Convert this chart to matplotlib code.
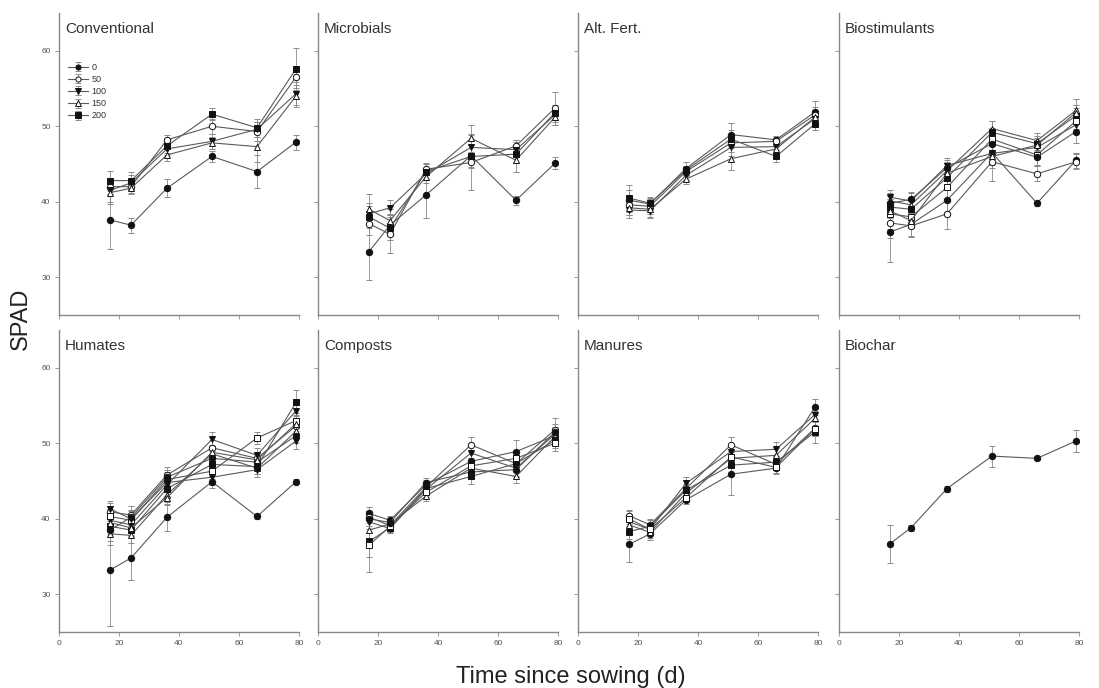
import matplotlib.pyplot as plt
import numpy as np

plt.rcParams['font.family'] = ['Liberation Sans', 'DejaVu Sans']

# sampling days
days = [17, 24, 36, 51, 66, 79]
rates = ['0', '50', '100', '150', '200']

panel_names = ['Conventional', 'Microbials', 'Alt. Fert.', 'Biostimulants',
               'Humates', 'Composts', 'Manures', 'Biochar']

# SPAD means per treatment (one row per product / rate)
conv_mean = [[37.6, 36.9, 41.8, 46.0, 44.0, 47.9],
             [42.0, 42.0, 48.2, 50.0, 49.3, 56.5],
             [41.5, 42.5, 47.0, 48.0, 49.6, 54.3],
             [41.2, 41.8, 46.2, 47.8, 47.3, 54.0],
             [42.8, 42.8, 47.4, 51.6, 49.8, 57.6]]
conv_err = [[3.8, 1.0, 1.2, 0.7, 2.2, 1.0],
            [1.0, 0.8, 0.7, 1.0, 1.2, 1.5],
            [1.5, 1.0, 0.8, 1.0, 1.0, 1.5],
            [1.5, 0.8, 0.8, 0.8, 2.0, 1.5],
            [1.3, 1.2, 1.0, 0.8, 1.2, 2.8]]

micro_mean = [[33.4, 36.9, 40.9, 46.1, 40.2, 45.1],
              [37.1, 35.7, 44.3, 45.2, 47.4, 52.4],
              [38.4, 39.2, 43.7, 47.2, 46.9, 51.5],
              [39.0, 37.5, 43.3, 48.4, 45.5, 51.2],
              [38.0, 36.5, 44.0, 46.0, 46.3, 51.8]]
micro_err = [[3.7, 1.5, 3.0, 1.5, 0.6, 0.8],
             [1.5, 2.5, 0.8, 3.6, 0.8, 2.2],
             [1.5, 1.0, 0.8, 1.8, 1.0, 1.0],
             [2.0, 1.5, 0.8, 1.8, 1.5, 1.0],
             [1.5, 1.5, 1.0, 1.5, 1.0, 1.0]]

alt_mean = [[40.2, 39.7, 44.4, 48.9, 48.2, 51.9],
            [39.6, 39.4, 44.0, 47.8, 48.0, 51.5],
            [38.9, 38.8, 43.5, 47.2, 47.3, 51.0],
            [39.2, 39.0, 43.0, 45.7, 47.0, 51.2],
            [40.5, 39.8, 44.2, 48.3, 46.0, 50.3]]
alt_err = [[2.0, 0.8, 0.8, 1.5, 0.5, 1.5],
           [1.0, 1.0, 0.6, 1.2, 0.6, 1.0],
           [1.0, 1.0, 0.6, 1.2, 0.8, 1.0],
           [1.0, 1.0, 0.6, 1.5, 0.8, 1.0],
           [1.0, 0.8, 0.6, 1.2, 0.8, 0.8]]

bio_mean = [[36.0, 37.0, 40.2, 46.5, 39.8, 45.5],
            [37.2, 36.8, 38.4, 45.3, 43.7, 45.3],
            [40.6, 40.1, 44.8, 46.4, 47.2, 50.2],
            [40.1, 39.6, 44.1, 49.7, 48.1, 52.1],
            [39.3, 39.0, 43.2, 49.2, 47.7, 51.4],
            [38.4, 38.0, 41.9, 48.3, 46.2, 50.7],
            [39.8, 40.3, 44.5, 47.7, 45.9, 49.3],
            [38.8, 37.5, 43.8, 46.0, 47.5, 51.8]]
bio_err = [[4.0, 1.5, 1.5, 1.5, 0.3, 1.0],
           [2.0, 1.5, 2.0, 2.5, 1.0, 1.0],
           [1.0, 1.0, 1.0, 1.5, 1.0, 1.0],
           [1.0, 1.0, 1.0, 1.0, 1.0, 1.5],
           [1.5, 1.5, 1.0, 1.5, 1.0, 1.0],
           [2.0, 1.5, 1.5, 1.5, 1.5, 1.0],
           [1.0, 1.0, 1.0, 1.5, 1.0, 1.5],
           [1.5, 1.0, 1.5, 1.5, 1.0, 1.0]]

hum_mean = [[33.2, 34.8, 40.2, 44.9, 40.3, 44.9],
            [40.9, 40.5, 45.8, 49.4, 48.0, 52.3],
            [39.8, 39.2, 44.5, 50.5, 48.4, 54.3],
            [38.0, 37.8, 43.2, 48.6, 46.7, 51.6],
            [39.0, 38.5, 44.0, 47.2, 46.9, 55.4],
            [40.3, 39.8, 45.2, 46.3, 50.7, 53.0],
            [38.5, 40.2, 45.5, 48.0, 47.5, 51.0],
            [39.5, 38.8, 42.8, 48.8, 47.8, 52.6],
            [41.3, 40.0, 44.8, 45.5, 46.5, 50.3]]
hum_err = [[7.4, 2.9, 1.8, 0.8, 0.3, 0.3],
           [1.2, 1.2, 1.0, 1.0, 0.8, 1.0],
           [1.5, 1.0, 1.0, 1.0, 1.0, 1.2],
           [1.5, 1.0, 1.0, 1.0, 0.8, 1.0],
           [1.0, 1.0, 1.0, 1.0, 1.0, 1.6],
           [1.0, 1.0, 1.0, 1.0, 0.8, 1.0],
           [1.5, 1.0, 1.0, 1.0, 1.0, 1.0],
           [1.0, 1.0, 1.0, 1.0, 1.0, 1.0],
           [1.0, 1.0, 1.0, 1.0, 1.0, 1.0]]

comp_mean = [[40.7, 39.8, 44.5, 47.6, 48.9, 51.0],
             [40.2, 39.1, 44.2, 49.8, 47.3, 51.8],
             [39.6, 38.7, 43.9, 48.7, 46.7, 51.2],
             [38.5, 39.3, 43.0, 46.7, 45.6, 50.9],
             [37.0, 38.8, 44.0, 45.6, 47.3, 50.4],
             [36.5, 39.0, 43.5, 47.0, 48.0, 50.0],
             [40.0, 39.5, 44.8, 46.2, 46.5, 51.5]]
comp_err = [[0.8, 0.6, 0.6, 1.0, 1.5, 1.0],
            [0.8, 0.6, 0.6, 1.0, 1.0, 1.5],
            [1.0, 0.6, 0.6, 1.0, 1.0, 1.0],
            [1.5, 0.6, 0.6, 1.0, 0.8, 1.0],
            [2.0, 0.6, 0.6, 1.0, 1.0, 1.0],
            [3.5, 0.6, 0.6, 1.0, 1.0, 1.0],
            [1.0, 0.6, 0.6, 1.0, 1.0, 1.0]]

man_mean = [[36.6, 38.0, 42.5, 45.9, 46.7, 54.8],
            [40.4, 39.2, 44.0, 49.8, 47.2, 52.0],
            [39.6, 38.6, 44.7, 48.9, 49.2, 53.8],
            [39.2, 38.2, 43.4, 48.0, 48.4, 53.3],
            [38.3, 39.0, 43.8, 47.1, 47.5, 51.5],
            [40.0, 38.6, 42.8, 48.2, 46.8, 51.9]]
man_err = [[2.3, 0.8, 0.6, 2.7, 0.8, 1.0],
           [0.8, 0.8, 0.6, 1.0, 0.8, 1.0],
           [1.0, 0.8, 0.8, 1.0, 1.0, 1.0],
           [1.0, 0.8, 0.8, 1.0, 1.0, 1.0],
           [1.0, 0.8, 0.6, 1.5, 0.8, 1.5],
           [1.0, 0.8, 0.6, 1.0, 0.8, 1.0]]

char_mean = [[36.7, 38.8, 44.0, 48.3, 48.0, 50.3]]
char_err = [[2.5, 0.4, 0.4, 1.4, 0.2, 1.4]]

panel_means = [conv_mean, micro_mean, alt_mean, bio_mean,
               hum_mean, comp_mean, man_mean, char_mean]
panel_errs = [conv_err, micro_err, alt_err, bio_err,
              hum_err, comp_err, man_err, char_err]

# marker styles: (marker, filled)
styles = [('o', True), ('o', False), ('v', True), ('^', False), ('s', True),
          ('s', False), ('o', True), ('^', False), ('v', True)]

fig = plt.figure(figsize=(10.99, 6.88), dpi=100)

W, H = 1099, 688
lefts = [59, 318, 578, 839]
tops = [13, 330]
pw, ph = 240, 302

for i, name in enumerate(panel_names):
    row, col = divmod(i, 4)
    ax = fig.add_axes([lefts[col] / W, 1 - (tops[row] + ph) / H, pw / W, ph / H])
    for j, (m, e) in enumerate(zip(panel_means[i], panel_errs[i])):
        mk, filled = styles[j % len(styles)]
        ax.errorbar(days, m, yerr=e, color='#5a5a5a', lw=0.8, elinewidth=0.6,
                    ecolor='#8a8a8a', capsize=2.5, capthick=0.6,
                    marker=mk, ms=4.6, mec='#111111', mew=0.7,
                    mfc='#111111' if filled else 'white',
                    label=rates[j] if i == 0 else None)
    ax.set_xlim(0, 80)
    ax.set_ylim(25, 65)
    ax.set_xticks([0, 20, 40, 60, 80])
    ax.set_yticks([30, 40, 50, 60])
    for s in ['top', 'right']:
        ax.spines[s].set_visible(False)
    for s in ['left', 'bottom']:
        ax.spines[s].set_color('#888888')
        ax.spines[s].set_linewidth(1.0)
    ax.tick_params(length=3, width=0.6, color='#888888', labelsize=6,
                   labelcolor='#555555', pad=3)
    if row == 0:
        ax.tick_params(labelbottom=False)
    if col != 0:
        ax.tick_params(labelleft=False)
    ax.text(0.025, 0.97, name, transform=ax.transAxes, ha='left', va='top',
            fontsize=11, color='#333333')
    if i == 0:
        ax.legend(loc='upper left', bbox_to_anchor=(0.02, 0.85), frameon=False,
                  fontsize=6.5, handlelength=2.2, labelspacing=0.35,
                  borderpad=0, handletextpad=0.4, markerscale=0.8,
                  labelcolor='#333333')

fig.text(0.019, 0.536, 'SPAD', rotation=90, ha='center', va='center',
         fontsize=17, color='#222222')
fig.text(0.519, 0.016, 'Time since sowing (d)', ha='center', va='center',
         fontsize=17, color='#222222')

fig.savefig('out.png', dpi=100)
